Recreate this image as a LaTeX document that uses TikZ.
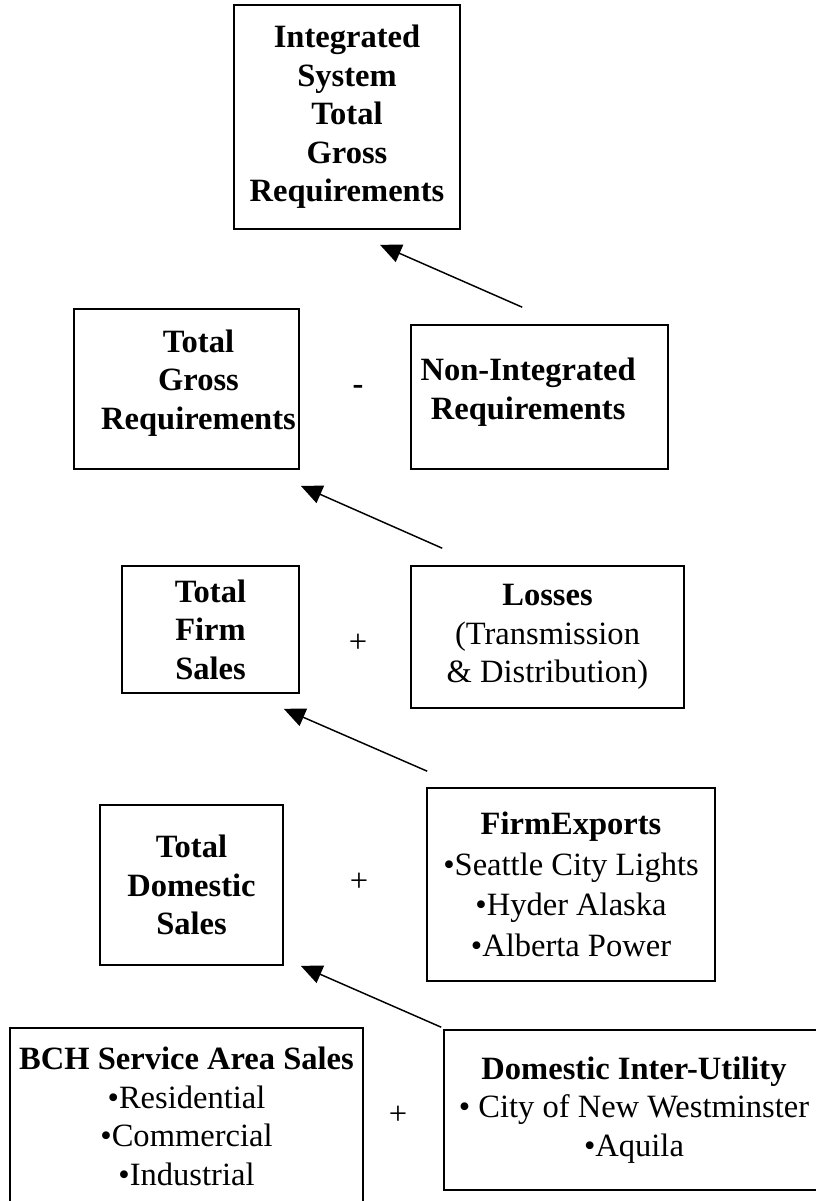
\documentclass[tikz,border=0pt]{standalone}
\usepackage{fontspec}
\setmainfont{Liberation Serif}
\usetikzlibrary{arrows.meta}

\begin{document}
\begin{tikzpicture}
		[x=0.75pt,y=-0.75pt,
		 box/.style= {draw=black,line width=1.2pt,inner sep=0pt,align=center,
		              font=\fontsize{24.4}{28.9}\selectfont},
		 sign/.style= {font=\fontsize{24.4}{28.9}\selectfont},
		 arr/.style= {line width=1.1pt,-{Triangle[length=16pt,width=14pt]}}]

		\useasboundingbox (0,0) rectangle (816,1201);

		\node[box,minimum width=169.5pt,minimum height=168pt] (isys) at (347,117)
			{\textbf{Integrated}\\\textbf{System}\\\textbf{Total}\\\textbf{Gross}\\\textbf{Requirements}}
		;

		\node[box,minimum width=168.75pt,minimum height=120pt] (tgross) at (186.5,389)
			{\hspace*{18pt}\begin{tabular}{@{}c@{}}\textbf{Total}\\\textbf{Gross}\\\textbf{Requirements}\\[9pt]\end{tabular}}
		;

		\node[box,minimum width=192.75pt,minimum height=108pt] (nonint) at (539.5,397)
			{\begin{tabular}{@{}c@{}}\textbf{Non-Integrated}\\\textbf{Requirements}\\[7pt]\end{tabular}\hspace*{17pt}}
		;

		\node[box,minimum width=132.75pt,minimum height=95.25pt] (tfirm) at (210.5,629.5)
			{\textbf{Total}\\\textbf{Firm}\\\textbf{Sales}}
		;

		\node[box,minimum width=204.75pt,minimum height=106.5pt] (losses) at (547.5,637)
			{\textbf{Losses}\\(Transmission\\\& Distribution)}
		;

		\node[box,minimum width=137.25pt,minimum height=120pt] (tdom) at (191.5,885)
			{\textbf{Total}\\\textbf{Domestic}\\\textbf{Sales}}
		;

		\node[box,minimum width=216pt,minimum height=144.75pt,
		      font=\fontsize{24.4}{30.5}\selectfont] (exports) at (571,884.5)
			{\textbf{FirmExports}\\•Seattle City Lights\\•Hyder Alaska\\•Alberta Power}
		;

		\node[box,minimum width=264.75pt,minimum height=132.75pt] (bch) at (186.5,1116.5)
			{\textbf{BCH Service Area Sales}\\•Residential\\•Commercial\\•Industrial}
		;

		\node[box,minimum width=285pt,minimum height=120pt] (dinter) at (634,1110)
			{\textbf{Domestic Inter-Utility}\\• City of New Westminster\\•Aquila}
		;

		% signs between the boxes
		\node[sign] (minus1) at (358,390) {\textbf{-}};
		\node[sign] (plus1)  at (358,643) {+};
		\node[sign] (plus2)  at (359,882) {+};
		\node[sign] (plus3)  at (398,1115) {+};

		% arrows up to the totals
		\draw[arr] ([shift={(112,-17)}]nonint.north west) -- ([shift={(33,15)}]isys.south);
		\draw[arr] ([shift={(32,-17)}]losses.north west) -- ([shift={(1,16)}]tgross.south east);
		\draw[arr] ([shift={(1,-16)}]exports.north west) -- ([shift={(-16,15)}]tfirm.south east);
		\draw[arr] ([shift={(-2,-2)}]dinter.north west) -- ([shift={(17,0)}]tdom.south east);

	\end{tikzpicture}
\end{document}
